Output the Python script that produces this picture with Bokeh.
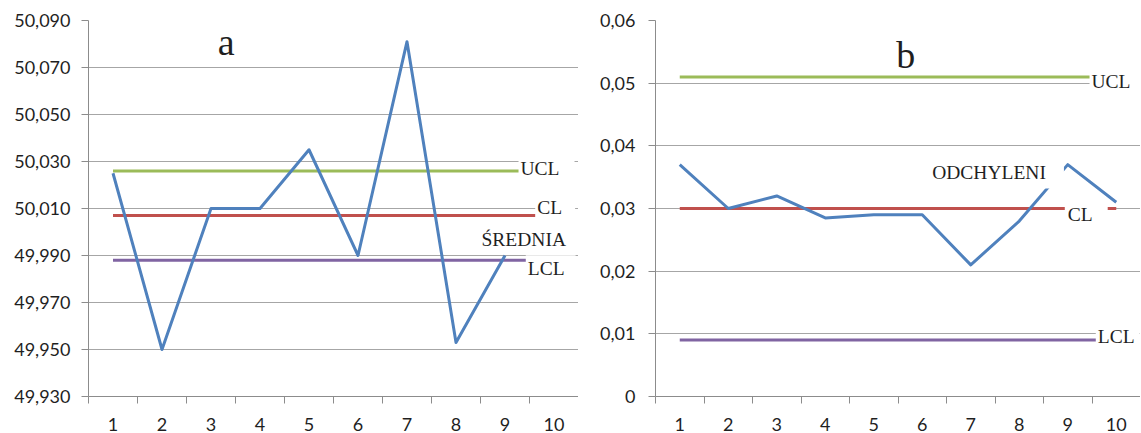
from bokeh.plotting import figure
from bokeh.layouts import row
from bokeh.models import Range1d, FixedTicker, CustomJSTickFormatter, Label
from bokeh.embed import file_html
from bokeh.resources import INLINE

# ---------------- data ----------------
samples = [1, 2, 3, 4, 5, 6, 7, 8, 9, 10]

# chart a : sample means (ŚREDNIA)
mean_samples = [1, 2, 3, 4, 5, 6, 7, 8, 9]
mean_values = [50.025, 49.950, 50.010, 50.010, 50.035, 49.990, 50.081, 49.953, 49.990]
a_ucl = 50.026
a_cl = 50.007
a_lcl = 49.988
a_yticks = [49.93, 49.95, 49.97, 49.99, 50.01, 50.03, 50.05, 50.07, 50.09]

# chart b : standard deviations (ODCHYLENIE)
dev_values = [0.037, 0.030, 0.032, 0.0285, 0.029, 0.029, 0.021, 0.028, 0.037, 0.031]
b_ucl = 0.051
b_cl = 0.030
b_lcl = 0.009
b_yticks = [0.0, 0.01, 0.02, 0.03, 0.04, 0.05, 0.06]

BLUE = "#4F81BD"
GREEN = "#9BBB59"
RED = "#C0504D"
PURPLE = "#8064A2"
GRID = "#a6a6a6"
AXIS = "#8c8c8c"
TXT = "#1f1f1f"
SERIF = "Liberation Serif"
SANS = "Lato"


def make_fig(width, border_left, y0, y1, yticks, fmt_code, y_standoff):
    p = figure(width=width, height=433, output_backend="svg", toolbar_location=None,
               x_range=Range1d(0.5, 10.5), y_range=Range1d(y0, y1),
               min_border_left=border_left, min_border_right=0,
               min_border_top=20, min_border_bottom=36)
    p.outline_line_color = None
    p.background_fill_color = "white"
    p.border_fill_color = "white"
    p.xgrid.visible = False

    p.yaxis.ticker = FixedTicker(ticks=yticks, minor_ticks=[])
    p.yaxis.formatter = CustomJSTickFormatter(code=fmt_code)
    p.ygrid.grid_line_color = GRID
    p.ygrid.grid_line_width = 1
    p.yaxis.axis_line_color = AXIS
    p.yaxis.major_tick_line_color = AXIS
    p.yaxis.major_tick_out = 7
    p.yaxis.major_tick_in = 0
    p.yaxis.minor_tick_line_color = None
    p.yaxis.major_label_standoff = y_standoff
    p.yaxis.major_label_text_font = SANS
    p.yaxis.major_label_text_font_size = "18px"
    p.yaxis.major_label_text_color = TXT

    p.xaxis.ticker = FixedTicker(ticks=samples,
                                 minor_ticks=[s - 0.5 for s in samples] + [samples[-1] + 0.5])
    p.xaxis.axis_line_color = AXIS
    p.xaxis.major_tick_line_color = None
    p.xaxis.major_tick_out = 0
    p.xaxis.major_tick_in = 0
    p.xaxis.minor_tick_line_color = AXIS
    p.xaxis.minor_tick_out = 7
    p.xaxis.minor_tick_in = 0
    p.xaxis.major_label_standoff = 14
    p.xaxis.major_label_text_font = SANS
    p.xaxis.major_label_text_font_size = "18px"
    p.xaxis.major_label_text_color = TXT
    return p


def add_label(p, x, y, text, pad, size="19.5px", align="left", bg=True):
    kw = dict(x=x, y=y, text=text, text_font=SERIF, text_font_size=size,
              text_color=TXT, text_align=align, text_baseline="alphabetic")
    if bg:
        kw.update(background_fill_color="white",
                  padding=dict(left=pad[0], right=pad[1], top=pad[2], bottom=pad[3]))
    p.add_layout(Label(**kw))


# ---------------- chart a ----------------
pa = make_fig(578, 88, a_yticks[0], a_yticks[-1], a_yticks,
              "return tick.toFixed(3).replace('.', ',');", 11)
pa.line(samples, [a_ucl] * len(samples), line_color=GREEN, line_width=3)
pa.line(samples, [a_cl] * len(samples), line_color=RED, line_width=3)
pa.line(samples, [a_lcl] * len(samples), line_color=PURPLE, line_width=3)
pa.line(mean_samples, mean_values, line_color=BLUE, line_width=3, line_join="round")

add_label(pa, 9.276, 50.0273, "UCL", (2, 15, 2, 0))
add_label(pa, 9.616, 50.0108, "CL", (2, 13, 2, 0))
add_label(pa, 8.480, 49.9973, "ŚREDNIA", (2, 2, 2, 0))
add_label(pa, 9.424, 49.9850, "LCL", (2, 11, 3, 0))
add_label(pa, 3.118, 50.0815, "a", (1, 14, 4, 0), size="38px")

# ---------------- chart b ----------------
pb = make_fig(562, 77, b_yticks[0], b_yticks[-1], b_yticks,
              "return tick === 0 ? '0' : tick.toFixed(2).replace('.', ',');", 13)
pb.line(samples, [b_ucl] * len(samples), line_color=GREEN, line_width=3)
pb.line(samples, [b_cl] * len(samples), line_color=RED, line_width=3)
pb.line(samples, [b_lcl] * len(samples), line_color=PURPLE, line_width=3)
pb.line(samples, dev_values, line_color=BLUE, line_width=3, line_join="round")

add_label(pb, 9.449, 0.05043, "UCL", (2, 10, 2, 0))
add_label(pb, 8.939, 0.02922, "CL", (3, 15, 2, 0))
add_label(pb, 6.164, 0.03543, "ODCHYLENI", (2, 18, 2, 5))
add_label(pb, 9.578, 0.00969, "LCL", (2, 5, 2, 0))
add_label(pb, 5.463, 0.05457, "b", (0, 0, 0, 0), size="38px", bg=False)

layout = row(pa, pb)
open("out.html", "w").write(file_html(layout, INLINE))
